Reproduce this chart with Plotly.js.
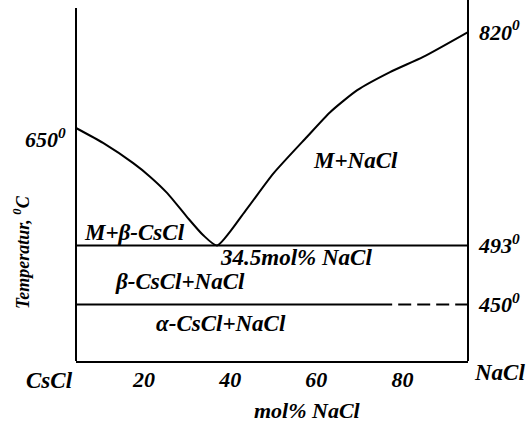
<!DOCTYPE html>
<html><head><meta charset="utf-8">
<script src="https://cdn.plot.ly/plotly-3.0.1.min.js"></script>
<style>html,body{margin:0;padding:0;background:#fff}</style>
</head><body><div id="chart" style="width:529px;height:423px"></div>
<script>
// ---- data ----
const liquidusMol  = [4.22, 10.5, 17.5, 21.4, 25.4, 30.0, 33.7, 36.95, 43.5, 50.0, 57.8, 63.2, 69.5, 77.1, 84.8, 95.2];
const liquidusTemp = [650, 630, 603, 585, 563, 531, 507, 493, 539, 589, 638, 678, 717, 749, 776, 820];
const eutecticTemp = 493;
const transitionTemp = 450;
const molRange = [4.22, 95.2];
const transitionSolidMol = [4.22, 77.6];
const transitionDashMol = [79.0, 95.2];
const xTickVals = [20, 40, 60, 80];
const leftTempTicks = [650];
const rightTempTicks = [820, 493, 450];
const regionLabels = ['M+NaCl', 'M+β-CsCl', '34.5mol% NaCl', 'β-CsCl+NaCl', 'α-CsCl+NaCl'];
const regionMol = [69.0, 17.7, 55.3, 28.4, 37.9];
const regionTemp = [607, 510, 484.6, 467.1, 435.8];

// schematic (non-linear) temperature scale of the drawing
const scaleTemp = [408.8, 450, 493, 650, 820, 876.6];
const scaleH = [0, 56.5, 115.5, 233, 329, 361];
function h(T) {
  for (let i = 0; i < scaleTemp.length - 1; i++) {
    if (T <= scaleTemp[i + 1] || i === scaleTemp.length - 2) {
      const t = (T - scaleTemp[i]) / (scaleTemp[i + 1] - scaleTemp[i]);
      return scaleH[i] + t * (scaleH[i + 1] - scaleH[i]);
    }
  }
}
const yTop = scaleH[scaleH.length - 1];

const FAM = '"Liberation Serif", "DejaVu Serif", serif';
const fnt = (s) => ({family: FAM, size: s, color: '#000', weight: 'bold', style: 'italic'});
const deg = (t) => t + '<sup>0</sup>';
const line = {color: '#000', width: 2};

const traces = [
  {x: liquidusMol, y: liquidusTemp.map(h), mode: 'lines', line: Object.assign({shape: 'spline', smoothing: 0.6}, line), hoverinfo: 'skip'},
  {x: molRange, y: [eutecticTemp, eutecticTemp].map(h), mode: 'lines', line: line, hoverinfo: 'skip'},
  {x: transitionSolidMol, y: [transitionTemp, transitionTemp].map(h), mode: 'lines', line: line, hoverinfo: 'skip'},
  {x: transitionDashMol, y: [transitionTemp, transitionTemp].map(h), mode: 'lines', line: {color: '#000', width: 2, dash: '13px,6px'}, hoverinfo: 'skip'},
  {x: molRange, y: [h(transitionTemp), h(transitionTemp)], yaxis: 'y2', mode: 'lines', line: {width: 0}, hoverinfo: 'skip', showlegend: false, opacity: 0}
];

const C = {xanchor: 'center', yanchor: 'middle', showarrow: false};
const annotations = regionLabels.map((t, i) => Object.assign({
  text: t, x: regionMol[i], y: h(regionTemp[i]), xref: 'x', yref: 'y', font: fnt(23)
}, C));
annotations.push(
  Object.assign({}, C, {text: deg(leftTempTicks[0]), xref: 'paper', yref: 'y', x: -8 / 392, y: h(leftTempTicks[0]), yshift: -10, xanchor: 'right', font: fnt(22)}),
  Object.assign({}, C, {text: 'CsCl', xref: 'paper', yref: 'paper', x: (49 - 76) / 392, y: (361 - 380) / 361, font: fnt(23)}),
  Object.assign({}, C, {text: 'NaCl', xref: 'paper', yref: 'paper', x: (499 - 76) / 392, y: (361 - 372) / 361, font: fnt(23)}),
  Object.assign({}, C, {text: 'mol% NaCl', xref: 'paper', yref: 'paper', x: (307 - 76) / 392, y: (361 - 410) / 361, font: fnt(22)}),
  Object.assign({}, C, {text: 'Temperatur, <sup>0</sup>C', xref: 'paper', yref: 'paper', x: (21 - 76) / 392, y: (361 - 252) / 361, textangle: -90, font: fnt(18)})
);

const layout = {
  width: 529, height: 423,
  margin: {l: 76, r: 61, t: 0, b: 62},
  paper_bgcolor: '#fff', plot_bgcolor: '#fff',
  showlegend: false,
  xaxis: {range: molRange, tickvals: xTickVals, ticks: '', showgrid: false, zeroline: false,
          showline: true, linecolor: '#000', linewidth: 2, tickfont: fnt(22), ticklabelstandoff: -2, fixedrange: true},
  yaxis: {range: [0, yTop], showticklabels: false, ticks: '', showgrid: false, zeroline: false, showline: false, fixedrange: true},
  yaxis2: {overlaying: 'y', side: 'right', range: [0, yTop], tickvals: rightTempTicks.map(h), ticktext: rightTempTicks.map(deg),
           ticks: '', showgrid: false, zeroline: false, showline: false, tickfont: fnt(22), ticklabelstandoff: 10, fixedrange: true},
  shapes: [
    {type: 'line', xref: 'paper', yref: 'y', x0: 0, x1: 0, y0: 0, y1: yTop - 8, line: {color: '#000', width: 2}},
    {type: 'line', xref: 'paper', yref: 'y', x0: 1, x1: 1, y0: 0, y1: yTop, line: {color: '#000', width: 2}}
  ],
  annotations: annotations
};

Plotly.newPlot('chart', traces, layout, {staticPlot: true, displayModeBar: false});
</script></body></html>
